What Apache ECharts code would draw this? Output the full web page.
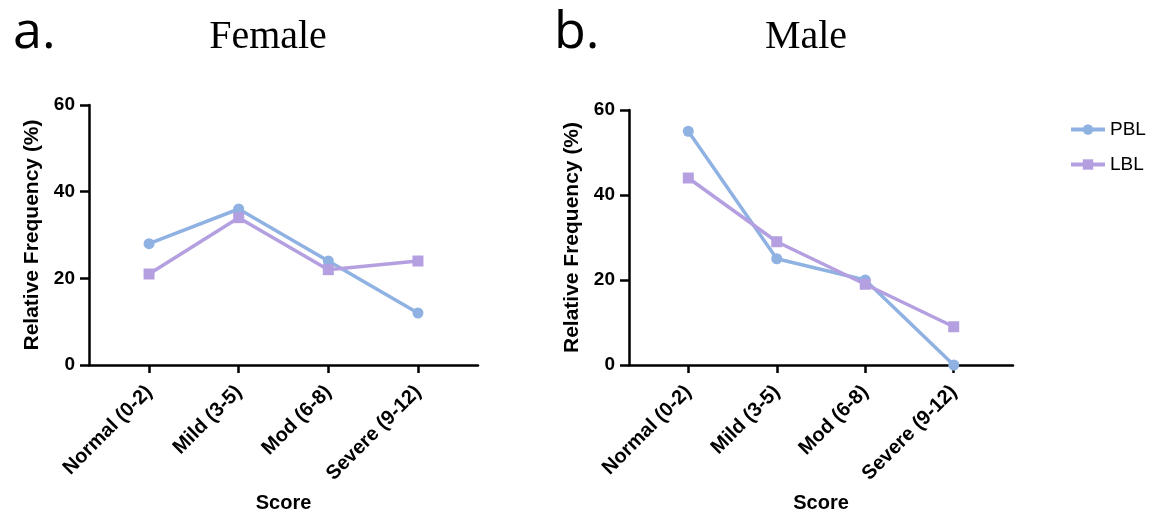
<!DOCTYPE html>
<html>
<head>
<meta charset="utf-8">
<script src="https://cdn.jsdelivr.net/npm/echarts@6/dist/echarts.min.js"></script>
<style>
  html, body { margin: 0; padding: 0; background: #fff; }
  #main { width: 1153px; height: 513px; }
</style>
</head>
<body>
<div id="main"></div>
<script>
var categories = ['Normal (0-2)', 'Mild (3-5)', 'Mod (6-8)', 'Severe (9-12)'];
var femalePBL = [28, 36, 24, 12];
var femaleLBL = [21, 34, 22, 24];
var malePBL = [55, 25, 20, 0];
var maleLBL = [44, 29, 19, 9];
var yTicks = [0, 20, 40, 60];

var colorPBL = '#8fb2e2';
var colorLBL = '#b49fe0';
var labelFont = 'Liberation Sans';

function toPoints(values) {
    return values.map(function (v, i) { return [i, v]; });
}

function makeX(gridIndex) {
    return {
        type: 'value',
        gridIndex: gridIndex,
        min: -0.67,
        max: 3.67,
        splitLine: { show: false },
        axisLine: { lineStyle: { color: '#000', width: 2.5 } },
        axisTick: { customValues: [0, 1, 2, 3], length: 8, lineStyle: { color: '#000', width: 2.5 } },
        axisLabel: {
            customValues: [0, 1, 2, 3],
            rotate: 45,
            margin: 24,
            color: '#000',
            fontFamily: labelFont,
            fontWeight: 'bold',
            fontSize: 20,
            formatter: function (v) { return categories[Math.round(v)]; }
        },
        name: 'Score',
        nameLocation: 'middle',
        nameGap: 128,
        nameTextStyle: { color: '#000', fontFamily: labelFont, fontWeight: 'bold', fontSize: 20 }
    };
}

function makeY(gridIndex) {
    return {
        type: 'value',
        gridIndex: gridIndex,
        min: yTicks[0],
        max: yTicks[yTicks.length - 1],
        interval: 20,
        splitLine: { show: false },
        axisLine: { show: true, onZero: false, lineStyle: { color: '#000', width: 2.5 } },
        axisTick: { show: true, length: 9, lineStyle: { color: '#000', width: 2.5 } },
        axisLabel: { margin: 14, color: '#000', fontFamily: labelFont, fontWeight: 'bold', fontSize: 19 },
        name: 'Relative Frequency (%)',
        nameLocation: 'middle',
        nameRotate: 90,
        nameGap: 46,
        nameTextStyle: { color: '#000', fontFamily: labelFont, fontWeight: 'bold', fontSize: 21 }
    };
}

function makeSeries(name, values, idx, color, symbol) {
    return {
        name: name,
        type: 'line',
        xAxisIndex: idx,
        yAxisIndex: idx,
        data: toPoints(values),
        symbol: symbol,
        symbolSize: 11,
        lineStyle: { color: color, width: 3.5 },
        itemStyle: { color: color },
        emphasis: { disabled: true }
    };
}

var chart = echarts.init(document.getElementById('main'), null, { renderer: 'canvas' });

var option = {
    animation: false,
    backgroundColor: '#fff',
    title: [
        { text: 'a.', left: 8, top: 2, textStyle: { fontFamily: 'Open Sans', fontWeight: 'normal', fontSize: 52, color: '#000' } },
        { text: 'Female', left: 263, top: 12, textAlign: 'center', textStyle: { fontFamily: 'Liberation Serif', fontWeight: 'normal', fontSize: 40, color: '#000' } },
        { text: 'b.', left: 549, top: 2, textStyle: { fontFamily: 'Open Sans', fontWeight: 'normal', fontSize: 52, color: '#000' } },
        { text: 'Male', left: 801, top: 12, textAlign: 'center', textStyle: { fontFamily: 'Liberation Serif', fontWeight: 'normal', fontSize: 40, color: '#000' } }
    ],
    legend: {
        data: ['PBL', 'LBL'],
        orient: 'vertical',
        left: 1064,
        top: 115,
        itemWidth: 34,
        itemHeight: 13,
        itemGap: 16,
        lineStyle: { width: 4 },
        textStyle: { fontFamily: labelFont, fontSize: 19, color: '#000' }
    },
    grid: [
        { left: 89, top: 105, width: 389, height: 260, outerBoundsMode: 'none' },
        { left: 629, top: 110, width: 384, height: 255, outerBoundsMode: 'none' }
    ],
    xAxis: [makeX(0), makeX(1)],
    yAxis: [makeY(0), makeY(1)],
    series: [
        makeSeries('PBL', femalePBL, 0, colorPBL, 'circle'),
        makeSeries('LBL', femaleLBL, 0, colorLBL, 'rect'),
        makeSeries('PBL', malePBL, 1, colorPBL, 'circle'),
        makeSeries('LBL', maleLBL, 1, colorLBL, 'rect')
    ]
};

chart.setOption(option);
</script>
</body>
</html>
